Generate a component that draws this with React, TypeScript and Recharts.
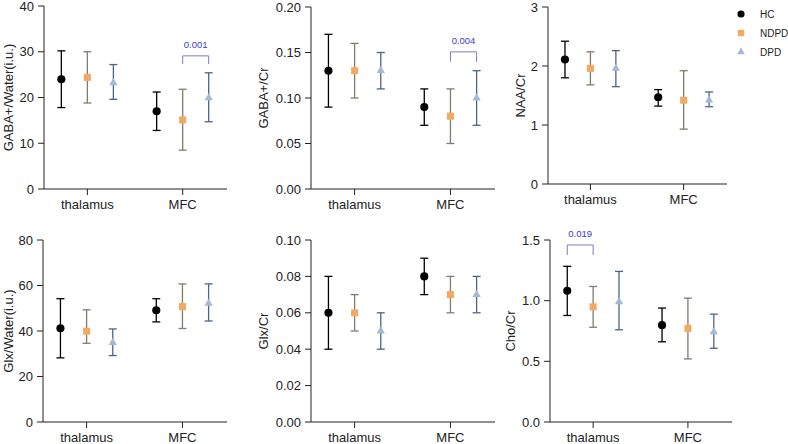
import React from 'react';
import { ScatterChart, Scatter, XAxis, YAxis, ErrorBar, ReferenceLine, Legend, Symbols } from 'recharts';

const FONT = 'Arial, "Liberation Sans", Helvetica, sans-serif';

// categories and groups
const regions = ['thalamus', 'MFC'];
const groupNames = ['HC', 'NDPD', 'DPD'];
const groupOffsets = [-0.273, 0, 0.273];
const markerTypes = ['circle', 'square', 'triangle'];
const markerSizes = [52, 50, 30];
const markerFills = ['#000000', '#F2AA62', '#A4B9D6'];
const whiskerColors = ['#000000', '#857B6B', '#4E6485'];

// rows = HC, NDPD, DPD ; columns = thalamus, MFC
const gabaWaterMean = [[24.0, 17.0], [24.4, 15.1], [23.2, 19.9]];
const gabaWaterLow = [[17.8, 12.8], [18.8, 8.5], [19.6, 14.7]];
const gabaWaterHigh = [[30.2, 21.2], [30.0, 21.8], [27.2, 25.4]];

const gabaCrMean = [[0.13, 0.09], [0.13, 0.08], [0.13, 0.1]];
const gabaCrLow = [[0.09, 0.07], [0.1, 0.05], [0.11, 0.07]];
const gabaCrHigh = [[0.17, 0.11], [0.16, 0.11], [0.15, 0.13]];

const naaCrMean = [[2.11, 1.47], [1.96, 1.42], [1.96, 1.42]];
const naaCrLow = [[1.8, 1.32], [1.68, 0.93], [1.65, 1.31]];
const naaCrHigh = [[2.42, 1.6], [2.24, 1.92], [2.26, 1.56]];

const glxWaterMean = [[41.2, 49.1], [39.9, 50.7], [34.9, 52.2]];
const glxWaterLow = [[28.2, 44.0], [34.6, 41.1], [29.2, 44.4]];
const glxWaterHigh = [[54.2, 54.2], [49.3, 60.7], [40.9, 60.7]];

const glxCrMean = [[0.06, 0.08], [0.06, 0.07], [0.05, 0.07]];
const glxCrLow = [[0.04, 0.07], [0.05, 0.06], [0.04, 0.06]];
const glxCrHigh = [[0.08, 0.09], [0.07, 0.08], [0.06, 0.08]];

const choCrMean = [[1.082, 0.798], [0.949, 0.771], [0.991, 0.743]];
const choCrLow = [[0.878, 0.661], [0.781, 0.52], [0.76, 0.608]];
const choCrHigh = [[1.283, 0.939], [1.117, 1.021], [1.241, 0.889]];

// y tick labels
const gabaWaterTicks = [0, 10, 20, 30, 40];
const gabaCrTicks = [0, 0.05, 0.1, 0.15, 0.2];
const naaCrTicks = [0, 1, 2, 3];
const glxWaterTicks = [0, 20, 40, 60, 80];
const glxCrTicks = [0, 0.02, 0.04, 0.06, 0.08, 0.1];
const choCrTicks = [0, 0.5, 1, 1.5];

// significance brackets: region index, group from/to, bracket level, leg end, p value
const gabaWaterBracket = { region: 1, from: 1, to: 2, y: 29.1, drop: 27.3, label: '0.001' };
const gabaCrBracket = { region: 1, from: 1, to: 2, y: 0.1507, drop: 0.1397, label: '0.004' };
const choCrBracket = { region: 0, from: 0, to: 1, y: 1.459, drop: 1.376, label: '0.019' };

const xDomain = [-0.455, 1.465];

const buildSeries = (mean: number[][], low: number[][], high: number[][], gi: number) =>
  regions.map((_, ri) => ({
    x: ri + groupOffsets[gi],
    y: mean[gi][ri],
    err: [mean[gi][ri] - low[gi][ri], high[gi][ri] - mean[gi][ri]],
  }));

const makeShape = (gi: number) => (p: any) => (
  <Symbols cx={p.cx} cy={p.cy} type={markerTypes[gi] as any} size={markerSizes[gi]} fill={markerFills[gi]} />
);

const renderLegend = (props: any) => {
  const items = props.payload || [];
  // keep the series order HC, NDPD, DPD
  const ordered = groupNames
    .map((g) => items.find((e: any) => e.value === g))
    .filter(Boolean);
  return (
    <div style={{ fontFamily: FONT, fontSize: 10, color: '#222' }}>
      {ordered.map((entry: any) => {
        const gi = groupNames.indexOf(entry.value);
        return (
          <div key={entry.value} style={{ height: 19, display: 'flex', alignItems: 'center' }}>
            <svg width={12} height={12} style={{ marginRight: 13 }}>
              <Symbols cx={6} cy={6} type={markerTypes[gi] as any} size={gi === 2 ? 26 : 40} fill={markerFills[gi]} />
            </svg>
            <span>{entry.value}</span>
          </div>
        );
      })}
    </div>
  );
};

function Panel(props: any) {
  const { col, plot, yLabel, yDomain, yTicks, digits, mean, low, high, bracket, labelX, legend } = props;
  const yw = plot.left - col;
  const mt = 14;
  const mr = legend ? 788 - plot.left - plot.width : 8;
  const xh = 34;
  const width = yw + plot.width + mr;
  const height = mt + plot.height + xh;
  const top = plot.top - mt;
  const axisColor = '#222';
  const bracketColor = '#7B7BC9';

  let bracketLines = null;
  if (bracket) {
    const xa = bracket.region + groupOffsets[bracket.from];
    const xb = bracket.region + groupOffsets[bracket.to];
    bracketLines = [
      <ReferenceLine key="l" segment={[{ x: xa, y: bracket.drop }, { x: xa, y: bracket.y }]} stroke={bracketColor} strokeWidth={1} ifOverflow="visible" />,
      <ReferenceLine
        key="h"
        segment={[{ x: xa, y: bracket.y }, { x: xb, y: bracket.y }]}
        stroke={bracketColor}
        strokeWidth={1}
        ifOverflow="visible"
        label={{ value: bracket.label, position: 'top', offset: 8, fontSize: 9.5, fill: '#3B3BCC', fontFamily: FONT }}
      />,
      <ReferenceLine key="r" segment={[{ x: xb, y: bracket.y }, { x: xb, y: bracket.drop }]} stroke={bracketColor} strokeWidth={1} ifOverflow="visible" />,
    ];
  }

  return (
    <div style={{ position: 'absolute', left: col, top }}>
      <ScatterChart width={width} height={height} margin={{ top: mt, right: mr, bottom: 0, left: 0 }} style={{ overflow: 'visible' }}>
        <XAxis
          type="number"
          dataKey="x"
          domain={xDomain}
          ticks={[0, 1]}
          tickFormatter={(v: number) => regions[v]}
          allowDataOverflow
          height={xh}
          stroke={axisColor}
          tickSize={6}
          tickMargin={5}
          tick={{ fontSize: 13, fill: axisColor, fontFamily: FONT }}
        />
        <YAxis
          type="number"
          dataKey="y"
          domain={yDomain}
          ticks={yTicks}
          allowDataOverflow
          width={yw}
          stroke={axisColor}
          tickSize={6}
          tickMargin={4}
          tickFormatter={(v: number) => v.toFixed(digits)}
          tick={{ fontSize: 13, fill: axisColor, fontFamily: FONT }}
          label={{
            value: yLabel,
            angle: -90,
            position: 'insideLeft',
            offset: labelX - col,
            fontSize: 13,
            fill: axisColor,
            fontFamily: FONT,
            style: { textAnchor: 'middle' },
          }}
        />
        {groupNames.map((g, gi) => (
          <Scatter
            key={g}
            name={g}
            data={buildSeries(mean, low, high, gi)}
            fill={markerFills[gi]}
            legendType={markerTypes[gi] as any}
            shape={makeShape(gi)}
            isAnimationActive={false}
          >
            <ErrorBar dataKey="err" direction="y" width={4} stroke={whiskerColors[gi]} strokeWidth={1.3} />
          </Scatter>
        ))}
        {bracketLines}
        {legend && (
          <Legend
            layout="vertical"
            align="center"
            verticalAlign="middle"
            width={60}
            wrapperStyle={{ left: 735 - col, top: 14 - 9.5 - top }}
            content={renderLegend}
          />
        )}
      </ScatterChart>
    </div>
  );
}

export default function App() {
  return (
    <div style={{ position: 'absolute', left: 0, top: 0, width: 788, height: 444, background: '#fff', fontFamily: FONT }}>
      <Panel col={0} plot={{ left: 44, top: 6, width: 183, height: 183 }} yLabel="GABA+/Water(i.u.)" yDomain={[0, 40]} yTicks={gabaWaterTicks} digits={0}
        mean={gabaWaterMean} low={gabaWaterLow} high={gabaWaterHigh} bracket={gabaWaterBracket} labelX={8} />
      <Panel col={250} plot={{ left: 311, top: 7, width: 184, height: 182 }} yLabel="GABA+/Cr" yDomain={[0, 0.2]} yTicks={gabaCrTicks} digits={2}
        mean={gabaCrMean} low={gabaCrLow} high={gabaCrHigh} bracket={gabaCrBracket} labelX={263} />
      <Panel col={500} plot={{ left: 548, top: 7, width: 179, height: 177 }} yLabel="NAA/Cr" yDomain={[0, 3]} yTicks={naaCrTicks} digits={0}
        mean={naaCrMean} low={naaCrLow} high={naaCrHigh} labelX={520} legend />
      <Panel col={0} plot={{ left: 43, top: 240, width: 184, height: 182 }} yLabel="Glx/Water(i.u.)" yDomain={[0, 80]} yTicks={glxWaterTicks} digits={0}
        mean={glxWaterMean} low={glxWaterLow} high={glxWaterHigh} labelX={8} />
      <Panel col={250} plot={{ left: 311, top: 240, width: 184, height: 182 }} yLabel="Glx/Cr" yDomain={[0, 0.1]} yTicks={glxCrTicks} digits={2}
        mean={glxCrMean} low={glxCrLow} high={glxCrHigh} labelX={263} />
      <Panel col={500} plot={{ left: 550, top: 240, width: 182, height: 182 }} yLabel="Cho/Cr" yDomain={[0, 1.5]} yTicks={choCrTicks} digits={1}
        mean={choCrMean} low={choCrLow} high={choCrHigh} bracket={choCrBracket} labelX={510} />
    </div>
  );
}
